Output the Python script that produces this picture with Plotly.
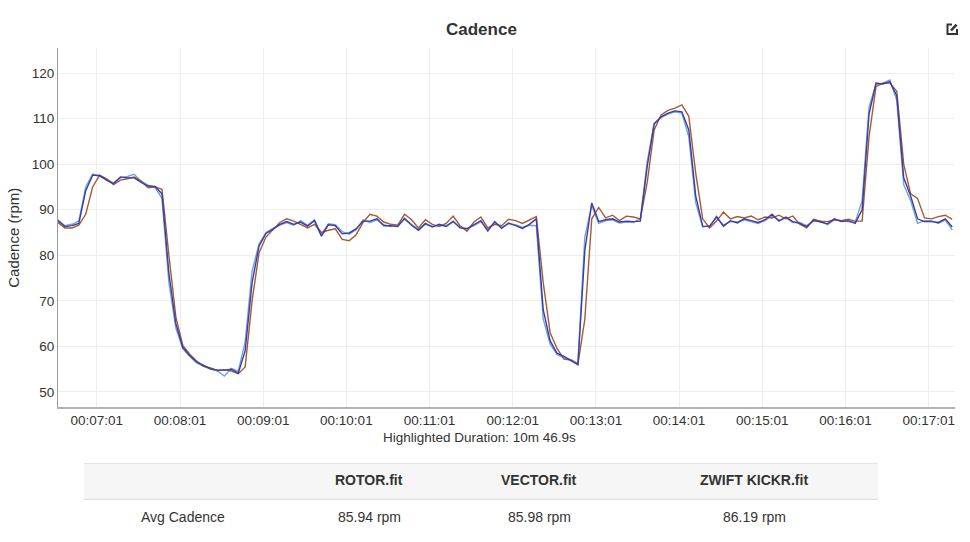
import plotly.graph_objects as go

# ---------------- data ----------------
time_s = list(range(393, 1039, 5))  # elapsed seconds, 5 s steps

rotor = [87.8, 86.5, 86.8, 87.5, 95.0, 97.8, 97.3, 96.7, 95.9, 97.0,
         97.3, 97.8, 96.2, 95.4, 94.9, 92.5, 74.0, 64.0, 59.5, 57.8,
         56.4, 55.6, 55.0, 54.6, 53.5, 55.2, 54.5, 61.0, 76.5, 82.5,
         85.0, 85.9, 86.6, 87.2, 86.6, 87.6, 86.6, 87.8, 84.6, 86.9,
         86.7, 85.2, 84.6, 85.6, 87.8, 87.2, 87.8, 86.7, 86.3, 86.5,
         87.9, 86.8, 85.7, 86.8, 86.4, 86.6, 86.5, 87.3, 86.2, 85.9,
         86.5, 87.4, 85.6, 87.2, 86.1, 86.9, 86.7, 86.1, 86.6, 86.5,
         66.0, 60.5, 58.2, 57.5, 57.1, 56.3, 84.0, 91.0, 87.0, 87.6,
         87.8, 87.1, 87.3, 87.2, 88.0, 100.5, 109.0, 110.2, 111.0, 111.5,
         111.2, 106.0, 91.5, 86.2, 86.5, 88.2, 86.6, 87.4, 87.3, 87.8,
         87.4, 87.0, 87.6, 88.7, 87.7, 88.2, 87.2, 87.2, 86.5, 87.5,
         87.5, 86.7, 87.8, 87.6, 87.4, 87.2, 92.0, 112.5, 117.5, 117.8,
         118.5, 114.0, 95.5, 92.0, 87.0, 87.6, 87.6, 87.0, 87.8, 85.6]

vector = [87.6, 86.3, 86.5, 87.0, 94.2, 97.6, 97.5, 96.5, 95.7, 97.2,
          97.0, 97.0, 96.0, 95.2, 95.1, 93.5, 76.0, 65.0, 59.8, 58.0,
          56.6, 55.8, 55.1, 54.8, 54.8, 55.0, 54.1, 59.0, 74.0, 82.0,
          84.8, 85.7, 86.8, 87.4, 86.8, 87.3, 86.4, 87.6, 84.2, 86.7,
          86.5, 84.7, 84.9, 85.8, 87.5, 87.5, 88.0, 86.5, 86.5, 86.3,
          88.1, 86.6, 85.5, 87.0, 86.2, 86.8, 86.3, 87.5, 86.0, 85.8,
          86.7, 87.6, 85.3, 87.4, 85.9, 87.1, 86.5, 85.9, 86.8, 88.0,
          68.0, 61.2, 58.5, 57.8, 56.9, 56.0, 81.0, 91.5, 87.4, 87.8,
          88.0, 87.3, 87.5, 87.4, 87.5, 99.5, 108.8, 110.4, 111.2, 111.7,
          111.5, 107.5, 93.0, 86.4, 86.3, 88.5, 86.4, 87.6, 87.1, 88.0,
          87.6, 87.2, 87.8, 89.0, 87.5, 88.4, 87.4, 87.0, 86.3, 87.7,
          87.3, 86.9, 88.0, 87.4, 87.6, 87.0, 90.0, 111.0, 117.8, 117.6,
          118.1, 115.0, 97.0, 93.0, 88.0, 87.4, 87.4, 87.2, 88.0, 86.2]

kickr = [87.2, 86.0, 86.0, 86.6, 89.0, 95.0, 97.6, 96.8, 95.5, 96.5,
         96.8, 97.2, 96.3, 94.8, 95.0, 94.5, 80.0, 66.5, 60.2, 58.3,
         56.8, 55.6, 55.3, 54.7, 54.9, 54.6, 54.0, 55.5, 70.0, 80.5,
         84.0, 85.5, 87.2, 88.0, 87.5, 86.8, 86.0, 86.8, 85.0, 85.5,
         85.8, 83.5, 83.2, 84.5, 87.2, 89.0, 88.6, 87.3, 86.8, 86.6,
         89.0, 87.8, 86.0, 87.8, 86.8, 86.3, 87.0, 88.6, 86.5, 85.3,
         87.3, 88.4, 86.0, 86.8, 86.5, 87.9, 87.6, 87.0, 87.8, 88.5,
         74.0, 63.0, 59.5, 57.2, 57.0, 56.0, 66.0, 88.0, 90.5, 88.2,
         88.8, 87.6, 88.6, 88.4, 88.0, 96.0, 107.5, 110.8, 111.8, 112.3,
         113.0, 110.5, 98.0, 88.0, 86.0, 87.5, 89.5, 88.0, 88.5, 88.2,
         88.6, 87.8, 88.4, 88.2, 88.8, 88.0, 88.6, 86.8, 86.0, 87.9,
         87.5, 87.4, 87.8, 87.6, 87.9, 87.5, 87.5, 106.0, 117.0, 117.8,
         117.8, 116.0, 100.0, 93.5, 92.5, 88.2, 88.0, 88.5, 88.8, 87.9]

series_names = ["ROTOR.fit", "VECTOR.fit", "ZWIFT KICKR.fit"]
avg_cadence = ["85.94 rpm", "85.98 rpm", "86.19 rpm"]
row_label = "Avg Cadence"

tick_vals = [421, 481, 541, 601, 661, 721, 781, 841, 901, 961, 1021]
tick_text = ["00:07:01", "00:08:01", "00:09:01", "00:10:01", "00:11:01",
             "00:12:01", "00:13:01", "00:14:01", "00:15:01", "00:16:01",
             "00:17:01"]
y_ticks = [50, 60, 70, 80, 90, 100, 110, 120]

# ---------------- layout helpers ----------------
W, H = 970, 542
L, R, T, B = 58, 15, 48, 134.5
PW, PH = W - L - R, H - T - B


def px(x):
    return (x - L) / PW


def py(y):
    return (H - B - y) / PH


FONT = "Liberation Sans, Arial, sans-serif"
TXT = "#333333"

fig = go.Figure()
colors = ["#6aa6d6", "#3b3bab", "#a65a33"]
order = [0, 2, 1]
data = [rotor, vector, kickr]
for i in order:
    fig.add_trace(go.Scatter(
        x=time_s, y=data[i], mode="lines", name=series_names[i],
        line=dict(color=colors[i], width=1.4), showlegend=False,
    ))

fig.update_layout(
    width=W, height=H,
    margin=dict(l=L, r=R, t=T, b=B, pad=0),
    paper_bgcolor="white", plot_bgcolor="white",
    font=dict(family=FONT, color=TXT, size=13.5),
    showlegend=False,
)
fig.update_xaxes(
    range=[393, 1040], tickvals=tick_vals, ticktext=tick_text,
    showgrid=True, gridcolor="#eeeeee", gridwidth=1,
    showline=True, linecolor="#b0b0b0", linewidth=2,
    ticks="", zeroline=False, tickfont=dict(size=13.5, color=TXT),
)
fig.update_yaxes(
    range=[46.7, 125.5], tickvals=y_ticks,
    showgrid=True, gridcolor="#eeeeee", gridwidth=1,
    showline=True, linecolor="#999999", linewidth=1,
    ticks="", zeroline=False, tickfont=dict(size=13.5, color=TXT),
)

ann = []
ann.append(dict(text="<b>Cadence</b>", x=px(481), y=py(29), xref="paper", yref="paper",
                showarrow=False, font=dict(size=17, color=TXT), xanchor="center", yanchor="middle"))
ann.append(dict(text="Cadence (rpm)", x=px(14), y=py(238), xref="paper", yref="paper",
                showarrow=False, textangle=-90, font=dict(size=15, color=TXT),
                xanchor="center", yanchor="middle"))
ann.append(dict(text="Highlighted Duration: 10m 46.9s", x=px(479), y=py(438), xref="paper", yref="paper",
                showarrow=False, font=dict(size=13.5, color=TXT), xanchor="center", yanchor="middle"))

col_x = [369, 539, 754]
ann.append(dict(text=row_label, x=px(183), y=py(518), xref="paper", yref="paper",
                showarrow=False, font=dict(size=14, color=TXT), xanchor="center", yanchor="middle"))
for cx, name, val in zip(col_x, series_names, avg_cadence):
    ann.append(dict(text="<b>" + name + "</b>", x=px(cx), y=py(481), xref="paper", yref="paper",
                    showarrow=False, font=dict(size=14, color=TXT), xanchor="center", yanchor="middle"))
    ann.append(dict(text=val, x=px(cx), y=py(518), xref="paper", yref="paper",
                    showarrow=False, font=dict(size=14, color=TXT), xanchor="center", yanchor="middle"))
fig.update_layout(annotations=ann)

shapes = []
# table header band
shapes.append(dict(type="rect", xref="paper", yref="paper", x0=px(84), x1=px(878), y0=py(500), y1=py(464),
                   fillcolor="#f6f6f6", line=dict(width=0), layer="below"))
shapes.append(dict(type="line", xref="paper", yref="paper", x0=px(84), x1=px(878), y0=py(464), y1=py(464),
                   line=dict(color="#e4e4e4", width=1)))
shapes.append(dict(type="line", xref="paper", yref="paper", x0=px(84), x1=px(878), y0=py(500), y1=py(500),
                   line=dict(color="#dcdcdc", width=1)))
# edit icon (top-right): open square + pencil stroke
shapes.append(dict(type="path", xref="paper", yref="paper",
                   path="M {} {} L {} {} L {} {} L {} {} L {} {}".format(
                       px(952), py(24.5), px(947.5), py(24.5), px(947.5), py(34), px(957), py(34), px(957), py(29)),
                   line=dict(color="#333333", width=2)))
shapes.append(dict(type="line", xref="paper", yref="paper", x0=px(951), y0=py(30.5), x1=px(956.5), y1=py(24.5),
                   line=dict(color="#333333", width=2.5)))
fig.update_layout(shapes=shapes)

fig.write_html("out.html")
